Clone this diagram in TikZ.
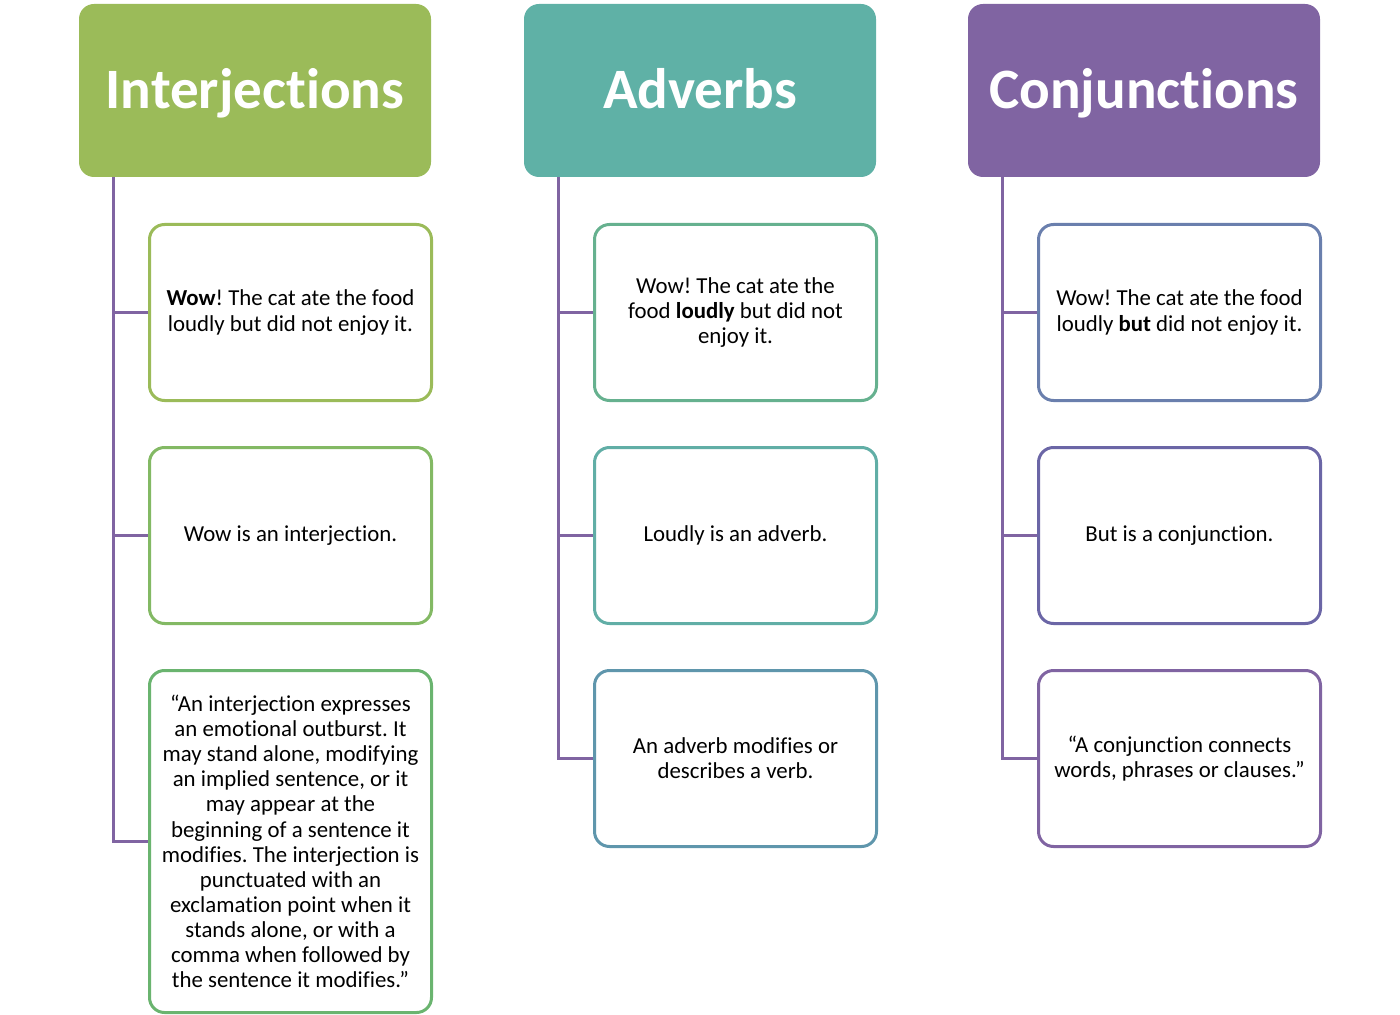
\documentclass[tikz,border=0pt]{standalone}
\usepackage{fontspec}
\setmainfont{Carlito}[Ligatures=NoCommon]
\frenchspacing
\definecolor{hdgreen}{HTML}{9BBB59}
\definecolor{hdteal}{HTML}{5FB1A6}
\definecolor{hdpurple}{HTML}{8064A2}
\definecolor{bxa}{HTML}{9BBB59}
\definecolor{bxb}{HTML}{83B964}
\definecolor{bxc}{HTML}{6AB46F}
\definecolor{bxd}{HTML}{66B18F}
\definecolor{bxe}{HTML}{61AEA6}
\definecolor{bxf}{HTML}{5F96AC}
\definecolor{bxg}{HTML}{6A7FAD}
\definecolor{bxh}{HTML}{6B66A6}
\definecolor{bxi}{HTML}{8064A2}
\usetikzlibrary{positioning, backgrounds}

\begin{document}
\begin{tikzpicture}[
    node distance=0.94cm,
    head/.style={rounded corners=0.3cm, minimum width=7.04cm, minimum height=3.46cm, inner sep=0pt, outer sep=0pt, text height=27pt, text depth=7pt, font=\fontsize{32.5}{40}\selectfont\bfseries, text=white, anchor=north west},
    item/.style={draw, line width=0.06cm, rounded corners=0.3cm, fill=white, minimum width=5.64cm, minimum height=3.52cm, inner sep=0pt, outer sep=0pt, align=center, font=\fontsize{13}{14.3}\selectfont},
    branch/.style={line width=0.06cm, draw=hdpurple},
  ]
  \useasboundingbox (0,0) rectangle (28,-20.3);

  % column heads
  \node[head, fill=hdgreen] (int) at (1.58,-0.08) {Interjections};
  \node[head, fill=hdteal] (adv) at (10.48,-0.08) {Adverbs};
  \node[head, fill=hdpurple] (con) at (19.36,-0.08) {Conjunctions};

  % interjections
  \node[item, draw=bxa, anchor=north west] (int1) at (2.99,-4.49) {\textbf{Wow}! The cat ate the food\\loudly but did not enjoy it.};
  \node[item, draw=bxb, below=of int1] (int2) {Wow is an interjection.};
  \node[item, draw=bxc, below=of int2, minimum height=6.84cm] (int3) {“An interjection expresses\\an emotional outburst. It\\may stand alone, modifying\\an implied sentence, or it\\may appear at the\\beginning of a sentence it\\modifies. The interjection is\\punctuated with an\\exclamation point when it\\stands alone, or with a\\comma when followed by\\the sentence it modifies.”};

  % adverbs
  \node[item, draw=bxd, anchor=north west] (adv1) at (11.89,-4.49) {Wow! The cat ate the\\food \textbf{loudly} but did not\\enjoy it.};
  \node[item, draw=bxe, below=of adv1] (adv2) {Loudly is an adverb.};
  \node[item, draw=bxf, below=of adv2] (adv3) {An adverb modifies or\\describes a verb.};

  % conjunctions
  \node[item, draw=bxg, anchor=north west] (con1) at (20.77,-4.49) {Wow! The cat ate the food\\loudly \textbf{but} did not enjoy it.};
  \node[item, draw=bxh, below=of con1] (con2) {But is a conjunction.};
  \node[item, draw=bxi, below=of con2] (con3) {“A conjunction connects\\words, phrases or clauses.”};

  \begin{scope}[on background layer]
    \foreach \c in {int, adv, con} {
      \draw[branch] ([xshift=0.68cm]\c.south west) |- (\c3.west);
      \draw[branch] ([xshift=0.68cm]\c.south west) |- (\c2.west);
      \draw[branch] ([xshift=0.68cm]\c.south west) |- (\c1.west);
    }
  \end{scope}
\end{tikzpicture}
\end{document}
